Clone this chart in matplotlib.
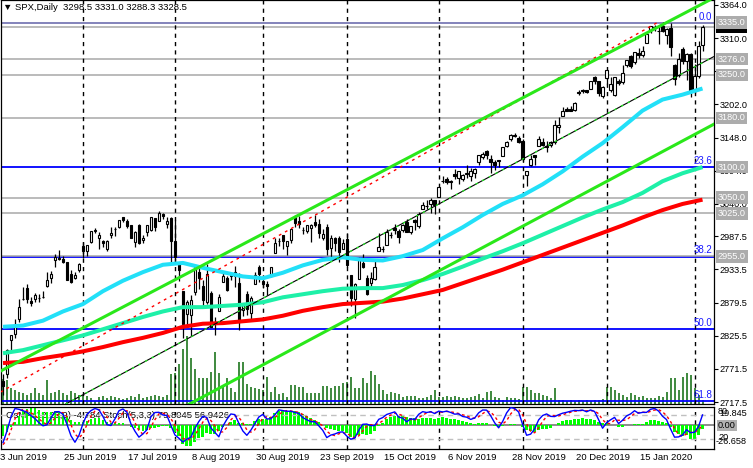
import numpy as np
import pandas as pd
import matplotlib.pyplot as plt

plt.rcParams['font.family'] = ['Liberation Sans', 'DejaVu Sans']

# SPX daily bars, 3 Jun 2019 - 5 Feb 2020 (broker feed: no bars on 25 Dec / 1 Jan)
trade_days = pd.bdate_range('2019-06-03', '2020-02-05')
trade_days = trade_days[~trade_days.isin(pd.to_datetime(['2019-12-25', '2020-01-01']))]

opens = [
    2751, 2763, 2818, 2828, 2852, 2886, 2903, 2882, 2886, 2887, 2889, 2906, 2920, 2949, 2952, 2951, 2945, 2926, 2919, 2932,
    2971, 2964, 2978, 2996, 2984, 2979, 2966, 2989, 2999, 3003, 3018, 3012, 3006, 2978, 3005, 2982, 2994, 2998, 3017, 3013, 3024, 3007, 3017,
    2980, 2943, 2898, 2861, 2859, 2897, 2930, 2907, 2880, 2895, 2846, 2865, 2913, 2919, 2922, 2930, 2912, 2867, 2893, 2862, 2910, 2938,
    2915, 2909, 2924, 2960, 2980, 2989, 2971, 2981, 3019, 3013, 2997, 2996, 3001, 3010, 3008, 2984, 3002, 2969, 2985, 2985, 2967,
    2983, 2924, 2885, 2918, 2944, 2920, 2911, 2918, 2963, 2966, 2974, 2990, 3001, 2996, 2997, 3011, 2995, 3014, 3004, 3032, 3036, 3040, 3046,
    3051, 3078, 3080, 3076, 3088, 3082, 3081, 3089, 3085, 3091, 3108, 3117, 3127, 3114, 3109, 3112, 3118, 3134, 3145, 3153, 3148,
    3143, 3087, 3103, 3119, 3134, 3141, 3135, 3136, 3141, 3166, 3183, 3195, 3195, 3193, 3223, 3226, 3225, 3227, 3247, 3240, 3215,
    3245, 3226, 3218, 3241, 3238, 3266, 3281, 3271, 3285, 3282, 3302, 3323, 3328, 3321, 3330, 3315, 3326, 3266, 3250, 3292,
    3273, 3284, 3226, 3249, 3298.5]
highs = [
    2763, 2804, 2827, 2852, 2885, 2904, 2910, 2888, 2895, 2894, 2898, 2930, 2931, 2958, 2965, 2955, 2946, 2933, 2929, 2944,
    2978, 2973, 2996, 3001, 2994, 2981, 2981, 3002, 3003, 3014, 3018, 3015, 3006, 2996, 3007, 2990, 3005, 3019, 3017, 3028, 3025, 3018, 3018,
    3014, 2945, 2898, 2884, 2892, 2938, 2935, 2917, 2943, 2898, 2856, 2894, 2931, 2923, 2929, 2939, 2927, 2879, 2899, 2890, 2930, 2940,
    2922, 2915, 2938, 2985, 2985, 2990, 2979, 3000, 3022, 3021, 3003, 3006, 3008, 3022, 3016, 2999, 3007, 2989, 2987, 2988, 2983,
    2993, 2924, 2911, 2953, 2959, 2925, 2929, 2948, 2993, 2972, 3000, 2994, 3008, 3000, 3008, 3015, 3004, 3016, 3027, 3044, 3047, 3050, 3047,
    3067, 3085, 3084, 3079, 3097, 3094, 3088, 3103, 3098, 3099, 3120, 3125, 3128, 3119, 3111, 3112, 3133, 3142, 3154, 3155, 3150,
    3145, 3094, 3119, 3120, 3150, 3148, 3143, 3143, 3176, 3182, 3198, 3198, 3199, 3206, 3226, 3228, 3226, 3240, 3248, 3241, 3232,
    3258, 3246, 3247, 3244, 3267, 3275, 3282, 3288, 3294, 3298, 3317, 3330, 3332, 3329, 3337, 3326, 3334, 3268, 3285, 3296,
    3285, 3286, 3268, 3306, 3331.0]
lows = [
    2729, 2756, 2801, 2822, 2848, 2884, 2878, 2874, 2881, 2880, 2887, 2905, 2911, 2938, 2948, 2944, 2916, 2912, 2918, 2930,
    2952, 2955, 2977, 2993, 2967, 2970, 2964, 2984, 2988, 3001, 3011, 3001, 2984, 2970, 2975, 2977, 2988, 2996, 2996, 3012, 3015, 3001, 2945,
    2946, 2914, 2822, 2840, 2825, 2891, 2901, 2871, 2877, 2839, 2826, 2865, 2913, 2899, 2917, 2904, 2834, 2857, 2860, 2853, 2910, 2913,
    2903, 2891, 2921, 2960, 2972, 2966, 2957, 2976, 3003, 3001, 2991, 2993, 2978, 3003, 2984, 2982, 2957, 2953, 2963, 2945, 2967,
    2938, 2874, 2855, 2918, 2935, 2892, 2907, 2917, 2963, 2962, 2974, 2985, 2991, 2976, 2995, 2995, 2991, 2997, 3001, 3032, 3032, 3025, 3024,
    3051, 3074, 3072, 3065, 3080, 3073, 3077, 3083, 3078, 3083, 3104, 3114, 3114, 3091, 3095, 3100, 3118, 3132, 3143, 3149, 3139,
    3110, 3070, 3102, 3103, 3134, 3135, 3125, 3133, 3138, 3156, 3183, 3191, 3191, 3192, 3217, 3221, 3220, 3227, 3235, 3216, 3213,
    3235, 3222, 3215, 3233, 3236, 3263, 3262, 3268, 3277, 3280, 3302, 3318, 3322, 3301, 3320, 3301, 3281, 3234, 3247, 3268,
    3242, 3214, 3220, 3245, 3288.3]
closes = [
    2744, 2803, 2826, 2843, 2873, 2886, 2885, 2879, 2891, 2887, 2889, 2917, 2926, 2954, 2950, 2945, 2917, 2913, 2924, 2942,
    2964, 2973, 2996, 2998, 2990, 2976, 2979, 2993, 3000, 3014, 3014, 3004, 2985, 2995, 2976, 2985, 3005, 3019, 3003, 3025, 3020, 3013, 2980,
    2953, 2932, 2844, 2881, 2884, 2938, 2919, 2883, 2926, 2840, 2848, 2889, 2923, 2900, 2925, 2922, 2847, 2878, 2869, 2887, 2924, 2926,
    2910, 2906, 2938, 2976, 2979, 2979, 2979, 3000, 3009, 3007, 2998, 3005, 3006, 3006, 2992, 2991, 2966, 2984, 2977, 2961, 2976,
    2940, 2887, 2910, 2952, 2938, 2893, 2919, 2938, 2970, 2966, 2995, 2989, 2997, 2986, 3006, 2995, 3004, 3010, 3023, 3039, 3036, 3047, 3038,
    3067, 3078, 3075, 3077, 3085, 3093, 3087, 3091, 3094, 3097, 3120, 3122, 3120, 3108, 3104, 3110, 3133, 3141, 3153, 3151, 3141,
    3113, 3093, 3113, 3117, 3146, 3136, 3132, 3141, 3168, 3169, 3191, 3192, 3191, 3205, 3221, 3224, 3223, 3240, 3240, 3221, 3231,
    3258, 3235, 3246, 3237, 3253, 3275, 3265, 3288, 3283, 3289, 3317, 3330, 3326, 3321, 3321, 3325, 3295, 3244, 3276, 3273,
    3284, 3226, 3249, 3298, 3328.5]
tick_volume = [
    25, 24, 16, 14, 12, 11, 9, 11, 16, 11, 9, 24, 11, 12, 14, 11, 9, 13, 11, 9,
    9, 8, 6, 3, 7, 8, 6, 8, 7, 6, 5, 6, 8, 7, 10, 6, 7, 8, 9, 8, 7, 9, 30,
    31, 40, 55, 68, 46, 35, 26, 26, 26, 32, 52, 31, 18, 26, 16, 12, 42, 42, 20, 17, 16, 15,
    14, 27, 12, 17, 10, 11, 7, 19, 19, 17, 17, 11, 11, 11, 11, 18, 18, 16, 18, 18, 21,
    22, 27, 16, 16, 26, 21, 33, 29, 20, 14, 10, 12, 11, 10, 7, 8, 8, 8, 6, 6, 7, 9, 14,
    7, 7, 8, 7, 8, 7, 6, 6, 7, 8, 10, 6, 12, 13, 7, 6, 4, 7, 6, 6, 5,
    17, 17, 14, 11, 11, 9, 8, 6, 16, 4, 4, 3, 4, 3, 4, 3, 4, 3, 4, 4, 5,
    17, 17, 14, 11, 9, 7, 11, 9, 7, 8, 6, 6, 6, 8, 7, 12, 26, 26, 14, 27,
    31, 29, 16, 9, 4]
# closes of Apr-May 2019, only used to warm up the oscillators
warmup_closes = [2867, 2867, 2873, 2879, 2893, 2896, 2878, 2888, 2888, 2907, 2906, 2907, 2900, 2905, 2908,
                 2934, 2927, 2926, 2940, 2943, 2946, 2924, 2918, 2946, 2932, 2884, 2879, 2871, 2881, 2812,
                 2834, 2851, 2876, 2860, 2840, 2864, 2856, 2822, 2826, 2802, 2783, 2789, 2752]

# moving averages read every 5th bar
ma_fast = [2840, 2842, 2850, 2865, 2877, 2898, 2915, 2929, 2941, 2944, 2936, 2929, 2922, 2919, 2928, 2940, 2949, 2953,
           2949, 2948, 2955, 2965, 2984, 3002, 3022, 3040, 3054, 3072, 3093, 3117, 3139, 3165, 3192, 3210, 3218, 3228]
ma_mid = [2797, 2802, 2810, 2818, 2826, 2836, 2846, 2856, 2865, 2872, 2872, 2874, 2876, 2880, 2888, 2893, 2898, 2902,
          2903, 2903, 2908, 2916, 2926, 2938, 2951, 2963, 2976, 2990, 3004, 3018, 3031, 3043, 3058, 3077, 3090, 3100]
ma_slow = [2781, 2783, 2789, 2794, 2800, 2807, 2815, 2822, 2830, 2840, 2845, 2846, 2849, 2852, 2858, 2866, 2872, 2877,
           2879, 2881, 2886, 2893, 2900, 2911, 2922, 2933, 2945, 2957, 2969, 2981, 2993, 3005, 3018, 3030, 3040, 3047]

level_prices = [3335.0, 3276.0, 3250.0, 3180.0, 3100.0, 3050.0, 3025.0, 2955.0]
bid_price = 3328.5
fib_high, fib_low = 3335.0, 2338.0
fib_levels = [0.0, 23.6, 38.2, 50.0, 61.8]
price_ticks = [3364.0, 3310.0, 3256.0, 3202.0, 3148.0, 3094.0, 3040.0, 2987.5, 2933.5, 2879.5, 2825.5, 2771.5, 2717.5]

# trend line anchors (bar index, price)
channel_top = [(0, 2770), (175, 3366)]
channel_bottom = [(46, 2712), (175, 3160)]
trend_mid = [(15.6, 2714), (174.4, 3268)]
fib_line = [(1.1, 2740), (163.6, 3335)]

osma_text = 'OsMA(12,26,9) -4.784 Stoch(5,3,3) 79.8045 56.9426'

# ---- oscillators
n0 = len(warmup_closes)
cc = pd.Series(warmup_closes + closes, dtype=float)
hh = pd.Series(warmup_closes + highs, dtype=float).rolling(5).max()
ll = pd.Series(warmup_closes + lows, dtype=float).rolling(5).min()
stoch_k = ((cc - ll).rolling(3).sum() / (hh - ll).rolling(3).sum() * 100)
stoch_d = stoch_k.rolling(3).mean()
macd = cc.ewm(span=12, adjust=False).mean() - cc.ewm(span=26, adjust=False).mean()
osma = (macd - macd.rolling(9).mean()).values[n0:]
stoch_k = stoch_k.values[n0:]
stoch_d = stoch_d.values[n0:]

# ---- layout in pixels
W, H = 753, 468
def px_box(x0, y0, x1, y1):
    return [x0 / W, 1 - y1 / H, (x1 - x0) / W, (y1 - y0) / H]

fig = plt.figure(figsize=(W / 100, H / 100), dpi=100)
ax = fig.add_axes(px_box(0.5, 0, 713.5, 404))
axs = fig.add_axes(px_box(0.5, 406.5, 713.5, 449))

n = len(closes)
x = np.arange(n)
o, h, l, c = (np.array(v, dtype=float) for v in (opens, highs, lows, closes))
xlim = (-0.625, 177.75)
ylim = (2714.3, 3372.1)
ppx = 0.6141  # pixels per price point

# volume
ax.vlines(x, ylim[0], ylim[0] + np.array(tick_volume) / ppx, color='#0a6a0a', lw=1.1, zorder=1)

# horizontal levels
for lv in fib_levels:
    ax.axhline(fib_high - (fib_high - fib_low) * lv / 100, color='#0000ff', lw=1.3, zorder=1.5)
for p in level_prices + [bid_price]:
    if p != 3100.0:
        ax.axhline(p, color='#a8a8a8', lw=1.1, zorder=1.6)

# month separators
month_starts = [i for i in range(1, n) if trade_days[i].month != trade_days[i - 1].month]
for m in month_starts:
    ax.axvline(m, color='black', lw=1, ls=(0, (3, 3)), zorder=1.8)
    axs.axvline(m, color='black', lw=1, ls=(0, (3, 3)), zorder=1.8)

# candles
up = c >= o
ax.vlines(x, l, h, color='black', lw=0.9, zorder=3)
ax.bar(x[up], (c - o)[up], bottom=o[up], width=0.62, color='white', edgecolor='black', lw=0.8, zorder=3.2)
ax.bar(x[~up], (o - c)[~up], bottom=c[~up], width=0.62, color='black', edgecolor='black', lw=0.8, zorder=3.2)

# moving averages
ma_x = np.arange(0, n, 5)
ax.plot(ma_x, ma_slow, color='#ff0000', lw=2.9, zorder=4, solid_capstyle='butt')
ax.plot(ma_x, ma_mid, color='#1ef0a8', lw=2.9, zorder=4, solid_capstyle='butt')
ax.plot(ma_x, ma_fast, color='#22e0f8', lw=2.9, zorder=4, solid_capstyle='butt')

# trend lines
ax.axline(*channel_top, color='#2ae81a', lw=2.2, zorder=5)
ax.axline(*channel_bottom, color='#2ae81a', lw=2.2, zorder=5)
ax.axline(*trend_mid, color='black', lw=0.8, zorder=5)
ax.axline(*trend_mid, color='#22ee22', lw=0.9, ls=(0, (2, 4)), zorder=5.1)
(fx0, fy0), (fx1, fy1) = fib_line
slope = (fy1 - fy0) / (fx1 - fx0)
ax.plot([xlim[0], fx1], [fy0 + slope * (xlim[0] - fx0), fy1], color='#ff0000', lw=1, ls=(0, (2, 3)), zorder=4.5)

ax.set_xlim(*xlim)
ax.set_ylim(*ylim)
ax.set_xticks([])
ax.yaxis.tick_right()
ax.set_yticks(price_ticks)
ax.set_yticklabels([f'{t:.1f}' for t in price_ticks])
ax.tick_params(axis='y', length=3, width=0.8, pad=1.5, labelsize=6.6, colors='black')
for sp in ax.spines.values():
    sp.set_linewidth(0.9)

# fib labels
for lv in fib_levels:
    ax.text(xlim[1] - 0.3, fib_high - (fib_high - fib_low) * lv / 100 + 2, f'{lv:.1f}', color='#1a1aff',
            fontsize=7, ha='right', va='bottom', zorder=6)

# price boxes on the right scale
yt = ax.get_yaxis_transform()
ax.text(1.006, bid_price, f'{bid_price:.1f}', transform=yt, ha='left', va='center', color='white', fontsize=6.6,
        bbox=dict(boxstyle='square,pad=0.2', fc='black', ec='none'), clip_on=False, zorder=9)
for p in level_prices:
    ax.text(1.006, p, f'{p:.1f}', transform=yt, ha='left', va='center', color='white', fontsize=6.6,
            bbox=dict(boxstyle='square,pad=0.2', fc='#acacac', ec='none'), clip_on=False, zorder=10)

# title
fig.text(3 / W, 1 - 7.5 / H, '\u25bc SPX,Daily  {:.1f} {:.1f} {:.1f} {:.1f}'.format(o[-1], h[-1], l[-1], c[-1]),
         fontsize=6.8, va='center', ha='left', color='black')

# ---- indicator window
axs.bar(x, osma, width=0.7, color='#00ff00', zorder=2)
axs.axhline(0, color='#8c8c8c', lw=1.4, zorder=1.5)
axs.set_ylim(-26.658, 19.845)
axs.set_xlim(*xlim)
axs.text(0.008, 0.8, osma_text, transform=axs.transAxes, fontsize=6.8, va='center', ha='left', zorder=1)
axs.set_xticks([])
axs.set_yticks([])
for sp in axs.spines.values():
    sp.set_linewidth(0.9)

st = axs.twinx()
st.set_ylim(-5, 101.25)
st.set_xlim(*xlim)
for lvl in (80, 20):
    st.axhline(lvl, color='#c0c0c0', lw=1, ls=(0, (4, 3)), zorder=1)
st.plot(x, stoch_k, color='#0000ff', lw=1, zorder=3)
st.plot(x, stoch_d, color='#ff0000', lw=1, ls=(0, (2, 2)), zorder=2.5)
st.set_yticks([])
for sp in st.spines.values():
    sp.set_visible(False)

# indicator scale labels
fig.text(718 / W, 1 - 412 / H, '80', fontsize=6.6, va='center')
fig.text(719 / W, 1 - 414 / H, '19.845', fontsize=6.6, va='center')
fig.text(718 / W, 1 - 425.5 / H, '0.00', fontsize=6.6, va='center',
         bbox=dict(boxstyle='square,pad=0.15', fc='#b0b0b0', ec='none'))
fig.text(718 / W, 1 - 437 / H, '20', fontsize=6.6, va='center')
fig.text(716 / W, 1 - 442 / H, '-26.658', fontsize=6.6, va='center')

# date labels
for i in range(0, n, 16):
    d = trade_days[i]
    fig.text((2.5 + 4 * i - 2.5) / W, 1 - 457 / H, f'{d.day} {d:%b %Y}', fontsize=6.8, va='center', ha='left')

fig.savefig('out.png', dpi=100)
